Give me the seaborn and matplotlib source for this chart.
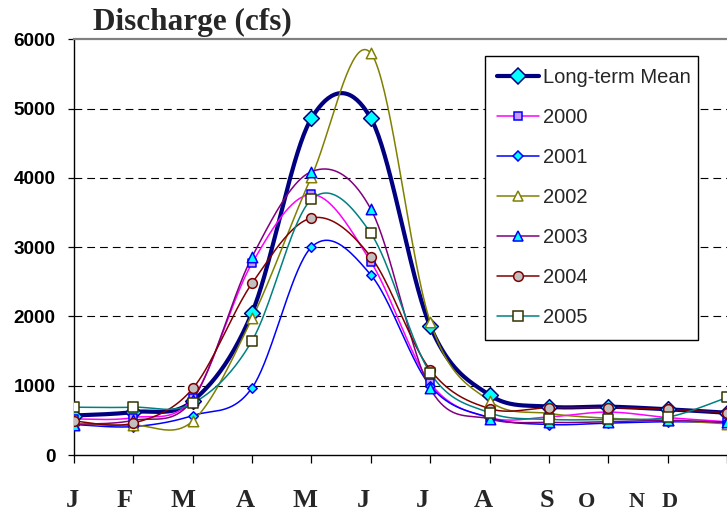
import numpy as np
import pandas as pd
import matplotlib
matplotlib.use("Agg")
import matplotlib.pyplot as plt
from matplotlib.lines import Line2D
import seaborn as sns

# Monthly discharge (cfs)
months = ["J", "F", "M", "A", "M", "J", "J", "A", "S", "O", "N", "D"]
mean_flow = [570, 620, 780, 2055, 4860, 4860, 1860, 866, 698, 698, 660, 610]
flow_2000 = [520, 540, 820, 2770, 3760, 2790, 1040, 540, 550, 620, 540, 480]
flow_2001 = [440, 410, 570, 970, 3000, 2600, 1000, 540, 440, 460, 480, 470]
flow_2002 = [450, 430, 490, 1973, 4017, 5800, 1924, 780, 600, 530, 500, 450]
flow_2003 = [440, 500, 800, 2860, 4090, 3550, 960, 520, 470, 480, 500, 470]
flow_2004 = [490, 460, 960, 2480, 3420, 2860, 1230, 670, 683, 683, 660, 610]
flow_2005 = [690, 690, 745, 1650, 3690, 3200, 1185, 610, 515, 515, 545, 830]
series_names = ["Long-term Mean", "2000", "2001", "2002", "2003", "2004", "2005"]
series_values = [mean_flow, flow_2000, flow_2001, flow_2002, flow_2003, flow_2004, flow_2005]
y_ticks = [0, 1000, 2000, 3000, 4000, 5000, 6000]

# line colour, line width, marker, marker size, face, edge
styles = {
    "Long-term Mean": ("#000080", 3.0, "D", 8.0, "#00FFFF", "#000080"),
    "2000": ("#FF00FF", 1.1, "s", 6.0, "#CC99FF", "#0000FF"),
    "2001": ("#0000FF", 1.1, "D", 4.8, "#00FFFF", "#0000FF"),
    "2002": ("#808000", 1.1, "^", 7.5, "#FFFFFF", "#808000"),
    "2003": ("#800080", 1.1, "^", 7.5, "#00FFFF", "#0000FF"),
    "2004": ("#800000", 1.1, "o", 7.0, "#C0C0C0", "#800000"),
    "2005": ("#008080", 1.1, "s", 6.8, "#FFFFFF", "#333300"),
}


def smooth_curve(values, n=40):
    """Bezier smoothing through every point (tangent = neighbour difference / 6)."""
    y = np.asarray(values, dtype=float)
    x = np.arange(len(y), dtype=float)
    xp = np.concatenate([[x[0]], x, [x[-1]]])
    yp = np.concatenate([[y[0]], y, [y[-1]]])
    t = np.linspace(0.0, 1.0, n)
    xs, ys = [], []
    for i in range(len(y) - 1):
        c1x = x[i] + (xp[i + 2] - xp[i]) / 6.0
        c1y = y[i] + (yp[i + 2] - yp[i]) / 6.0
        c2x = x[i + 1] - (xp[i + 3] - xp[i + 1]) / 6.0
        c2y = y[i + 1] - (yp[i + 3] - yp[i + 1]) / 6.0
        b0, b1, b2, b3 = (1 - t) ** 3, 3 * (1 - t) ** 2 * t, 3 * (1 - t) * t ** 2, t ** 3
        sx = b0 * x[i] + b1 * c1x + b2 * c2x + b3 * x[i + 1]
        sy = b0 * y[i] + b1 * c1y + b2 * c2y + b3 * y[i + 1]
        if i > 0:
            sx, sy = sx[1:], sy[1:]
        xs.append(sx)
        ys.append(sy)
    return np.concatenate(xs), np.concatenate(ys)


sns.set_style("white")
plt.rcParams["font.family"] = ["Liberation Sans", "DejaVu Sans"]

fig = plt.figure(figsize=(7.27, 5.14), dpi=100)
ax = fig.add_axes([74 / 727, 59 / 514, 653 / 727, 415.7 / 514])

month_idx = np.arange(len(months))

# smoothed lines
for z, (name, vals) in enumerate(zip(series_names, series_values)):
    lc, lw, mk, ms, fc, ec = styles[name]
    sx, sy = smooth_curve(vals)
    df = pd.DataFrame({"x": sx, "y": sy})
    sns.lineplot(data=df, x="x", y="y", color=lc, linewidth=lw, ax=ax,
                 sort=False, estimator=None, legend=False, zorder=3 + z * 0.1)

# markers at the monthly values
for z, (name, vals) in enumerate(zip(series_names, series_values)):
    lc, lw, mk, ms, fc, ec = styles[name]
    df = pd.DataFrame({"x": month_idx, "y": vals})
    sns.scatterplot(data=df, x="x", y="y", marker=mk, s=ms ** 2, color=fc,
                    edgecolor=ec, linewidth=1.1, ax=ax, legend=False,
                    zorder=4 + z * 0.1)

# axes and grid
ax.set_xlim(0, 653 / 59.85)
ax.set_ylim(0, 6000)
ax.set_yticks(y_ticks)
ax.set_yticklabels([str(v) for v in y_ticks], fontsize=13.6, fontweight="bold")
ax.set_xticks(month_idx)
ax.set_xticklabels([""] * len(months))
ax.set_xlabel("")
ax.set_ylabel("")
for v in y_ticks[1:-1]:
    ax.axhline(v, color="black", linewidth=0.8, linestyle=(0, (7, 4.5)), zorder=1)

ax.tick_params(axis="x", direction="out", length=5.5, width=0.9, color="black",
               bottom=True)
ax.tick_params(axis="y", direction="out", length=4.3, width=0.9, color="black",
               pad=9.0, left=True, labelcolor="black")
ax.spines["left"].set_color("black")
ax.spines["left"].set_linewidth(1.0)
ax.spines["bottom"].set_color("black")
ax.spines["bottom"].set_linewidth(1.0)
ax.spines["top"].set_color("#808080")
ax.spines["top"].set_linewidth(1.6)
ax.spines["right"].set_visible(False)

# legend, fixed width box
handles = []
for name in series_names:
    lc, lw, mk, ms, fc, ec = styles[name]
    handles.append(Line2D([0], [0], color=lc, linewidth=lw, marker=mk,
                          markersize=ms, markerfacecolor=fc,
                          markeredgecolor=ec, markeredgewidth=1.1))
leg = ax.legend(handles, series_names, loc="upper left", mode="expand",
                bbox_to_anchor=(411 / 653, 117 / 415.7, 213 / 653, 282 / 415.7),
                fontsize=14.5, frameon=True, fancybox=False, framealpha=1.0,
                edgecolor="black", borderpad=0.62, labelspacing=1.04,
                handlelength=2.05, handletextpad=0.2, borderaxespad=0.0,
                numpoints=1)
leg.get_frame().set_linewidth(1.0)
leg.set_zorder(10)

# title
fig.text(93 / 727, 1 - 30 / 514, "Discharge (cfs)", ha="left", va="baseline",
         fontsize=22.5, fontweight="bold", family=["Liberation Serif", "DejaVu Serif"])

# month letters along the bottom
label_x = [72, 125, 183, 245, 305, 363, 422, 483, 547, 587, 637, 670]
label_size = [19, 19, 19, 19, 19, 19, 19, 19, 19, 16, 16, 16]
for lx, ls, m in zip(label_x, label_size, months):
    fig.text(lx / 727, 1 - 507 / 514, m, ha="center", va="baseline",
             fontsize=ls, fontweight="bold",
             family=["Liberation Serif", "DejaVu Serif"])

fig.savefig("out.png", dpi=100)
